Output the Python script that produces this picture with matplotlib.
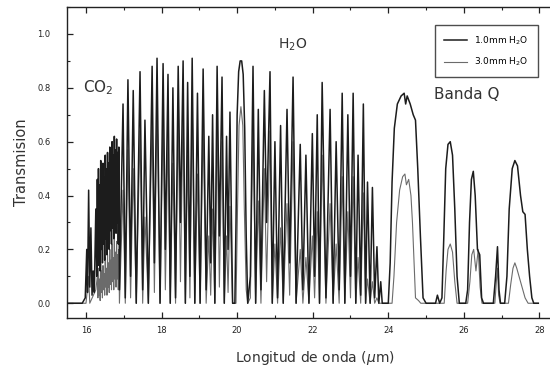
import matplotlib.pyplot as plt
from matplotlib.ticker import MultipleLocator

# transmission spectrum, 1.0 mm precipitable water
wl_10 = [15.50, 15.90, 15.98, 16.02, 16.04, 16.07, 16.10, 16.13, 16.16, 16.19, 16.22, 16.26, 16.285,
         16.300, 16.315, 16.330, 16.345, 16.360, 16.375, 16.390, 16.405, 16.420, 16.435, 16.450,
         16.465, 16.480, 16.495, 16.510, 16.525, 16.540, 16.555, 16.570, 16.585, 16.600, 16.615,
         16.630, 16.645, 16.660, 16.675, 16.690, 16.705, 16.720, 16.735, 16.750, 16.765, 16.780,
         16.795, 16.810, 16.825, 16.840, 16.855, 16.870, 16.885,
         16.98, 17.04, 17.11, 17.18, 17.25, 17.33, 17.43, 17.50, 17.56, 17.65, 17.75, 17.81, 17.88,
         17.96, 18.04, 18.10, 18.17, 18.23, 18.30, 18.37, 18.44, 18.50, 18.57, 18.63, 18.69, 18.75,
         18.81, 18.88, 18.95, 19.02, 19.10, 19.18, 19.25, 19.30, 19.35, 19.41, 19.47, 19.53, 19.60,
         19.66, 19.72, 19.76, 19.81, 19.88, 19.94, 19.97, 20.00, 20.04, 20.08, 20.12, 20.16, 20.20,
         20.24, 20.28, 20.35, 20.42, 20.49, 20.56, 20.63, 20.72, 20.78, 20.87, 20.93, 21.00, 21.07,
         21.15, 21.22, 21.32, 21.39, 21.48, 21.56, 21.67, 21.74, 21.82, 21.90, 21.99, 22.05, 22.12,
         22.18, 22.25, 22.35, 22.46, 22.54, 22.62, 22.70, 22.78, 22.85, 22.93, 23.00, 23.07, 23.14,
         23.20, 23.27, 23.34, 23.40, 23.45, 23.52, 23.58, 23.64, 23.70, 23.75, 23.80, 23.84, 24.00,
         24.05, 24.10, 24.16, 24.24, 24.34, 24.42, 24.46, 24.50, 24.58, 24.66, 24.72, 24.78, 24.85,
         24.92, 25.00, 25.25, 25.30, 25.36, 25.42, 25.47, 25.52, 25.58, 25.64, 25.70, 25.76, 25.82,
         25.88, 26.05, 26.10, 26.15, 26.20, 26.25, 26.30, 26.36, 26.42, 26.47, 26.52, 26.78, 26.84,
         26.89, 26.93, 26.97, 27.08, 27.14, 27.20, 27.28, 27.35, 27.42, 27.50, 27.56, 27.62, 27.68,
         27.74, 27.80, 27.85, 27.97]
t_10 = [0.00, 0.00, 0.02, 0.20, 0.04, 0.42, 0.06, 0.28, 0.03, 0.12, 0.04, 0.35, 0.10,
        0.46, 0.14, 0.50, 0.18, 0.44, 0.12, 0.53, 0.20, 0.48, 0.15, 0.52,
        0.22, 0.47, 0.16, 0.55, 0.24, 0.50, 0.18, 0.56, 0.25, 0.52, 0.20,
        0.58, 0.27, 0.54, 0.22, 0.60, 0.28, 0.55, 0.24, 0.62, 0.30, 0.57,
        0.26, 0.61, 0.30, 0.56, 0.22, 0.58, 0.05,
        0.74, 0.02, 0.83, 0.10, 0.79, 0.00, 0.86, 0.05, 0.68, 0.00, 0.88, 0.15, 0.91,
        0.00, 0.89, 0.20, 0.85, 0.00, 0.80, 0.02, 0.88, 0.30, 0.90, 0.00, 0.82, 0.10,
        0.91, 0.00, 0.78, 0.00, 0.87, 0.05, 0.62, 0.15, 0.70, 0.00, 0.88, 0.25, 0.84,
        0.00, 0.62, 0.20, 0.71, 0.00, 0.00, 0.30, 0.70, 0.86, 0.90, 0.90, 0.85, 0.65,
        0.25, 0.00, 0.10, 0.88, 0.00, 0.72, 0.05, 0.79, 0.30, 0.86, 0.00, 0.60, 0.02,
        0.66, 0.00, 0.72, 0.15, 0.84, 0.00, 0.59, 0.05, 0.55, 0.00, 0.63, 0.10, 0.70,
        0.00, 0.82, 0.02, 0.72, 0.00, 0.60, 0.05, 0.78, 0.00, 0.70, 0.10, 0.78, 0.00,
        0.55, 0.03, 0.74, 0.00, 0.45, 0.00, 0.43, 0.02, 0.21, 0.00, 0.08, 0.00, 0.00,
        0.15, 0.45, 0.65, 0.74, 0.77, 0.78, 0.74, 0.77, 0.74, 0.70, 0.68, 0.50, 0.25,
        0.02, 0.00, 0.00, 0.03, 0.00, 0.02, 0.25, 0.50, 0.59, 0.60, 0.55, 0.35, 0.10,
        0.00, 0.00, 0.05, 0.30, 0.46, 0.49, 0.40, 0.20, 0.18, 0.02, 0.00, 0.00, 0.10,
        0.21, 0.05, 0.00, 0.00, 0.10, 0.35, 0.50, 0.53, 0.51, 0.40, 0.34, 0.33, 0.20,
        0.10, 0.02, 0.00, 0.00]

# transmission spectrum, 3.0 mm precipitable water
wl_30 = [15.50, 16.00, 16.07, 16.10, 16.26,
         16.300, 16.315, 16.330, 16.345, 16.360, 16.375, 16.390, 16.405, 16.420, 16.435, 16.450,
         16.465, 16.480, 16.495, 16.510, 16.525, 16.540, 16.555, 16.570, 16.585, 16.600, 16.615,
         16.630, 16.645, 16.660, 16.675, 16.690, 16.705, 16.720, 16.735, 16.750, 16.765, 16.780,
         16.795, 16.810, 16.825, 16.840, 16.855, 16.870, 16.885,
         16.98, 17.04, 17.11, 17.18, 17.25, 17.33, 17.43, 17.50, 17.56, 17.65, 17.75, 17.81, 17.88,
         17.96, 18.04, 18.10, 18.17, 18.23, 18.30, 18.37, 18.44, 18.50, 18.57, 18.63, 18.69, 18.75,
         18.81, 18.88, 18.95, 19.02, 19.10, 19.18, 19.25, 19.30, 19.35, 19.41, 19.47, 19.53, 19.60,
         19.66, 19.72, 19.76, 19.81, 19.88, 19.97, 20.01, 20.05, 20.10, 20.15, 20.19, 20.24, 20.28,
         20.35, 20.42, 20.49, 20.56, 20.63, 20.72, 20.78, 20.87, 20.93, 21.00, 21.07,
         21.15, 21.22, 21.32, 21.39, 21.48, 21.56, 21.67, 21.74, 21.82, 21.90, 21.99, 22.05, 22.12,
         22.18, 22.25, 22.35, 22.46, 22.54, 22.62, 22.70, 22.78, 22.85, 22.93, 23.00, 23.07, 23.14,
         23.20, 23.27, 23.34, 23.40, 23.45, 23.52, 23.58, 23.64, 23.70, 23.75, 24.10,
         24.15, 24.22, 24.30, 24.38, 24.44, 24.48, 24.54, 24.60, 24.64, 24.72, 24.80, 24.86,
         25.48, 25.53, 25.58, 25.64, 25.70, 25.76, 25.82, 26.10, 26.16, 26.21, 26.26, 26.32,
         26.38, 26.43, 26.48, 26.82, 26.86, 26.89, 26.92, 26.96, 27.18, 27.24, 27.30, 27.35,
         27.40, 27.46, 27.54, 27.62, 27.70, 27.97]
t_30 = [0.00, 0.00, 0.10, 0.00, 0.05,
        0.10, 0.02, 0.13, 0.03, 0.09, 0.01, 0.15, 0.04, 0.12, 0.02, 0.14,
        0.05, 0.11, 0.03, 0.17, 0.06, 0.13, 0.03, 0.18, 0.06, 0.15, 0.04,
        0.20, 0.07, 0.16, 0.05, 0.22, 0.08, 0.17, 0.05, 0.24, 0.09, 0.19,
        0.06, 0.23, 0.09, 0.18, 0.05, 0.20, 0.00,
        0.42, 0.00, 0.57, 0.02, 0.50, 0.00, 0.64, 0.00, 0.32, 0.00, 0.68, 0.04, 0.75,
        0.00, 0.70, 0.05, 0.62, 0.00, 0.52, 0.00, 0.68, 0.08, 0.73, 0.00, 0.55, 0.02,
        0.75, 0.00, 0.48, 0.00, 0.66, 0.00, 0.25, 0.03, 0.35, 0.00, 0.68, 0.06, 0.60,
        0.00, 0.25, 0.04, 0.36, 0.00, 0.00, 0.35, 0.66, 0.73, 0.66, 0.35, 0.05, 0.00,
        0.02, 0.68, 0.00, 0.38, 0.00, 0.50, 0.08, 0.64, 0.00, 0.22, 0.00,
        0.28, 0.00, 0.37, 0.03, 0.60, 0.00, 0.20, 0.00, 0.17, 0.00, 0.25, 0.02, 0.34,
        0.00, 0.55, 0.00, 0.37, 0.00, 0.22, 0.00, 0.47, 0.00, 0.34, 0.02, 0.47, 0.00,
        0.17, 0.00, 0.41, 0.00, 0.09, 0.00, 0.08, 0.00, 0.02, 0.00, 0.00,
        0.10, 0.30, 0.42, 0.47, 0.48, 0.44, 0.46, 0.40, 0.30, 0.02, 0.01, 0.00,
        0.00, 0.12, 0.20, 0.22, 0.19, 0.08, 0.00, 0.00, 0.08, 0.18, 0.20, 0.12,
        0.20, 0.06, 0.00, 0.00, 0.08, 0.13, 0.03, 0.00, 0.00, 0.07, 0.13, 0.15,
        0.13, 0.10, 0.06, 0.02, 0.00, 0.00]

fig = plt.figure(figsize=(5.5, 3.72), dpi=100)
ax = fig.add_axes([0.122, 0.145, 0.90, 0.836])

ax.plot(wl_30, t_30, color='#6b6b6b', lw=0.8, label='3.0mm H$_2$O', zorder=2)
ax.plot(wl_10, t_10, color='#1c1c1c', lw=1.1, label='1.0mm H$_2$O', zorder=3)

ax.set_xlim(15.5, 28.6)
ax.set_ylim(-0.055, 1.1)

ax.xaxis.set_major_locator(MultipleLocator(2))
ax.xaxis.set_minor_locator(MultipleLocator(1))
ax.yaxis.set_major_locator(MultipleLocator(0.2))
ax.yaxis.set_minor_locator(MultipleLocator(0.1))
ax.yaxis.set_major_formatter(lambda v, pos: f'{v:.1f}')
ax.tick_params(which='both', direction='in', top=True, labelsize=6, colors='#222222')
ax.tick_params(axis='x', pad=6)
ax.tick_params(axis='y', pad=12)
ax.tick_params(which='major', length=4, width=0.9)
ax.tick_params(which='minor', length=2.5, width=0.8)
for s in ax.spines.values():
    s.set_linewidth(1.0)
    s.set_color('#222222')

ax.set_xlabel('Longitud de onda ($\\mu$m)', fontsize=10, color='#333333', labelpad=10)
ax.set_ylabel('Transmision', fontsize=10.5, color='#333333', labelpad=6)

ax.text(16.32, 0.80, 'CO$_2$', fontsize=11, color='#333333', ha='center', va='center')
ax.text(21.46, 0.96, 'H$_2$O', fontsize=10, color='#333333', ha='center', va='center')
ax.text(26.07, 0.775, 'Banda Q', fontsize=11, color='#333333', ha='center', va='center')

handles, labels = ax.get_legend_handles_labels()
leg = ax.legend(handles[::-1], labels[::-1], loc='upper right', bbox_to_anchor=(0.951, 0.942),
                fontsize=6.5, frameon=True, fancybox=False, edgecolor='#222222',
                handlelength=2.6, borderpad=1.0, labelspacing=1.0, borderaxespad=0)
leg.get_frame().set_linewidth(1.0)

fig.savefig('out.png', dpi=100)
